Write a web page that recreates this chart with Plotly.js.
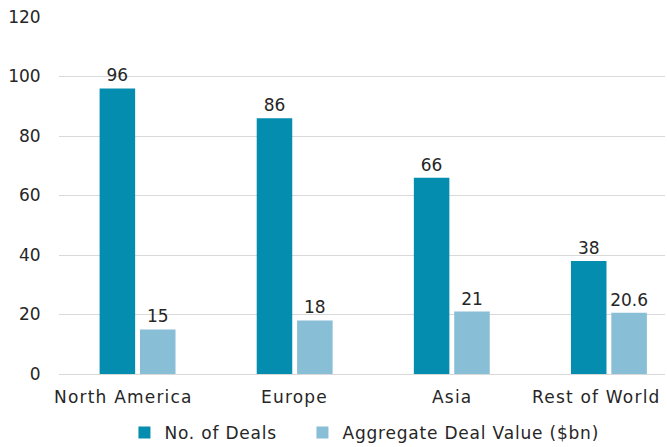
<!DOCTYPE html>
<html>
<head>
<meta charset="utf-8">
<script src="https://cdn.plot.ly/plotly-3.0.1.min.js"></script>
<style>
html,body{margin:0;padding:0;background:#fff;}
#chart{width:667px;height:447px;}
.annotation-text{letter-spacing:1.2px;}
.legendtext{letter-spacing:0.8px;}
</style>
</head>
<body>
<div id="chart"></div>
<script>
var categories = ["North America", "Europe", "Asia", "Rest of World"];
var seriesNames = ["No. of Deals", "Aggregate Deal Value ($bn)"];
var deals = [96, 86, 66, 38];
var dealValue = [15, 18, 21, 20.6];
var dealValueLabels = ["15", "18", "21", "20.6"];
var yTicks = [0, 20, 40, 60, 80, 100, 120];

var FONT = "'DejaVu Sans', sans-serif";
var TXT = "#262626";
var FS = 17;

var traces = [
  {
    type: "bar", name: seriesNames[0], x: categories, y: deals,
    marker: {color: "#058DAF"},
    text: deals.map(String), textposition: "outside", cliponaxis: false,
    constraintext: "none",
    textfont: {family: FONT, size: FS, color: TXT},
    legendwidth: 133
  },
  {
    type: "bar", name: seriesNames[1], x: categories, y: dealValue,
    marker: {color: "#88BED6"},
    text: dealValueLabels, textposition: "outside", cliponaxis: false,
    constraintext: "none",
    textfont: {family: FONT, size: FS, color: TXT}
  }
];

// label offsets (pixels) mimic the original's placement
var labelShift = [-14, 0, 0, -12];
var annotations = categories.map(function (c, i) {
  return {
    x: c, xref: "x", y: 0, yref: "paper", yanchor: "top",
    yshift: -11, xshift: labelShift[i], showarrow: false, text: c,
    font: {family: FONT, size: FS, color: TXT}
  };
});

var layout = {
  width: 667, height: 447,
  margin: {l: 59.3, r: 2, t: 17, b: 73, autoexpand: false},
  paper_bgcolor: "#fff", plot_bgcolor: "#fff",
  barmode: "group", bargap: 0.486, bargroupgap: 0.12,
  font: {family: FONT, size: FS, color: TXT},
  xaxis: {
    type: "category", range: [-0.5, 3.357], showticklabels: false,
    showgrid: false, zeroline: false, showline: false, fixedrange: true,
    automargin: false
  },
  yaxis: {
    range: [0, 120], tickvals: yTicks, ticktext: yTicks.map(String),
    showgrid: true, gridcolor: "#d9d9d9", gridwidth: 1,
    zeroline: true, zerolinecolor: "#d9d9d9", zerolinewidth: 1,
    showline: false, ticks: "outside", ticklen: 14, tickcolor: "rgba(0,0,0,0)",
    tickfont: {family: FONT, size: FS, color: TXT}, automargin: false
  },
  showlegend: true,
  legend: {
    orientation: "h", x: 0.108, xanchor: "left", y: -0.115, yanchor: "top",
    font: {family: FONT, size: FS, color: TXT}, itemwidth: 30,
    bgcolor: "rgba(0,0,0,0)"
  },
  annotations: annotations
};

Plotly.newPlot("chart", traces, layout, {staticPlot: true, displayModeBar: false});
</script>
</body>
</html>
